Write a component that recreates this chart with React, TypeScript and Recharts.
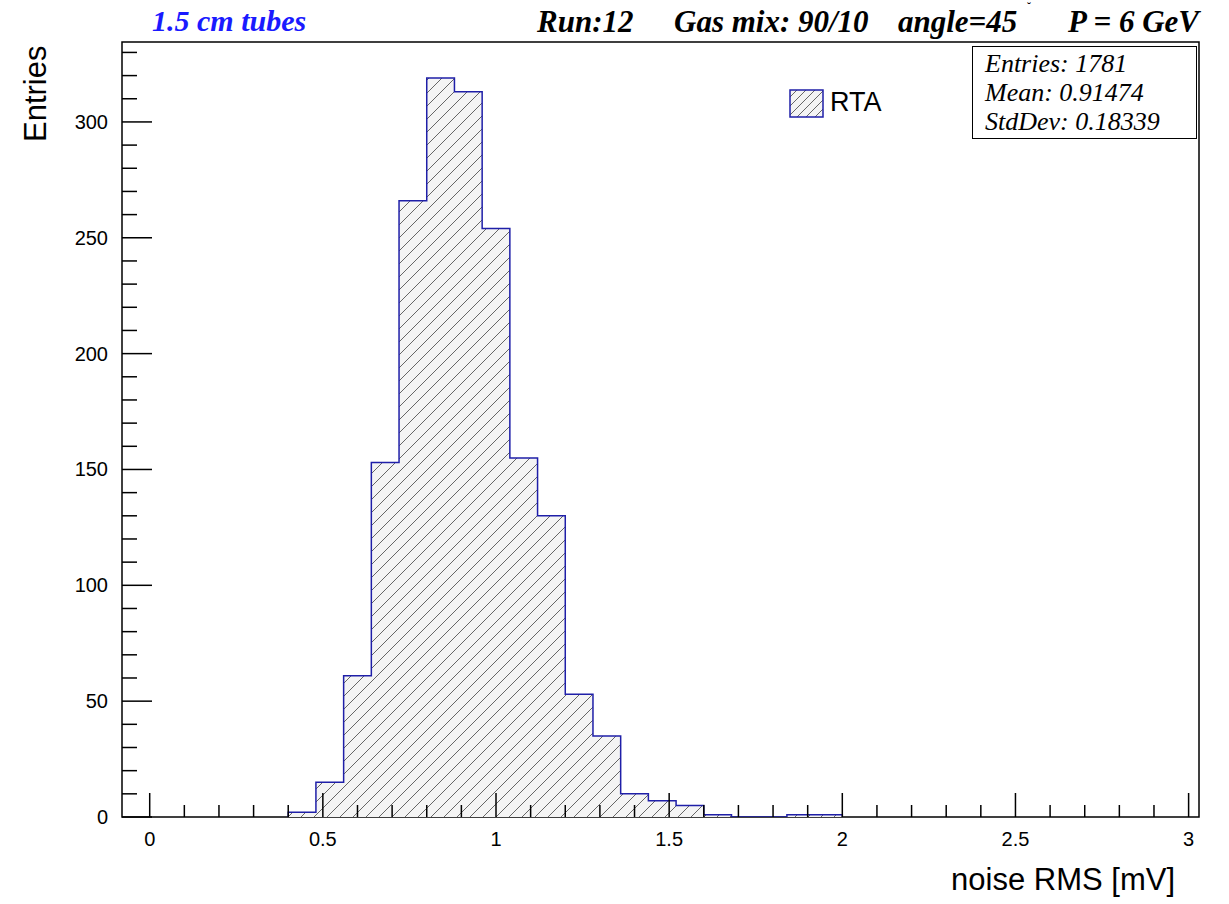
import React from "react";
import { ComposedChart, Area, XAxis, YAxis, Customized } from "recharts";

// bin left edges (width 0.08) and counts
const binEdges = [0.4, 0.48, 0.56, 0.64, 0.72, 0.8, 0.88, 0.96, 1.04, 1.12, 1.2, 1.28, 1.36, 1.44, 1.52, 1.6, 1.68, 1.76, 1.84, 1.92, 2.0];
const binCounts = [2, 15, 61, 153, 266, 319, 313, 254, 155, 130, 53, 35, 10, 7, 5, 1, 0, 0, 1, 1];

const xTicks = Array.from({ length: 31 }, (_, i) => +(i * 0.1).toFixed(1));
const yTicks = Array.from({ length: 34 }, (_, i) => i * 10);

const data = [
  { x: binEdges[0], y: 0 },
  ...binCounts.map((c, i) => ({ x: binEdges[i], y: c })),
  { x: binEdges[binEdges.length - 1], y: binCounts[binCounts.length - 1] },
  { x: binEdges[binEdges.length - 1], y: 0 },
];

const SANS = "'Liberation Sans', Arial, sans-serif";
const SERIF = "'Liberation Serif', 'Times New Roman', serif";
const BLUE = "#1f1fa8";

const XTick = (props: any) => {
  const { x, y, payload } = props;
  const v = payload.value;
  const major = Math.abs(v * 2 - Math.round(v * 2)) < 1e-6;
  return (
    <g>
      <line x1={x} x2={x} y1={y} y2={y - (major ? 24 : 12)} stroke="#000" strokeWidth={1.5} />
      {major && (
        <text x={x} y={y + 29} textAnchor="middle" fontSize={20} fontFamily={SANS} fill="#000">
          {v}
        </text>
      )}
    </g>
  );
};

const YTick = (props: any) => {
  const { x, y, payload } = props;
  const v = payload.value;
  const major = v % 50 === 0;
  return (
    <g>
      <line x1={x} x2={x + (major ? 30 : 15)} y1={y} y2={y} stroke="#000" strokeWidth={1.5} />
      {major && (
        <text x={x - 14} y={y + 7} textAnchor="end" fontSize={20} fontFamily={SANS} fill="#000">
          {v}
        </text>
      )}
    </g>
  );
};

const Frame = () => (
  <rect x={122} y={42} width={1077} height={775} fill="none" stroke="#000" strokeWidth={1.5} />
);

const titleStyle: React.CSSProperties = {
  position: "absolute",
  top: 4,
  fontFamily: SERIF,
  fontStyle: "italic",
  fontWeight: "bold",
  fontSize: 31,
  whiteSpace: "pre",
};

export default function App() {
  return (
    <div style={{ position: "absolute", left: 0, top: 0, width: 1229, height: 904, background: "#fff" }}>
      <ComposedChart width={1229} height={904} data={data} margin={{ top: 42, right: 30, bottom: 0, left: 0 }}>
        <defs>
          <pattern id="hatch" patternUnits="userSpaceOnUse" width={13} height={13}>
            <rect width={13} height={13} fill="#f4f4f4" />
            <path d="M-1,1 L1,-1 M0,13 L13,0 M12,14 L14,12" stroke="#666" strokeWidth={1} />
          </pattern>
        </defs>
        <XAxis
          type="number"
          dataKey="x"
          domain={[-0.08, 3.03]}
          ticks={xTicks}
          interval={0}
          tick={<XTick />}
          tickSize={0}
          tickMargin={0}
          axisLine={false}
          height={87}
          allowDataOverflow
        />
        <YAxis
          type="number"
          domain={[0, 334.5]}
          ticks={yTicks}
          interval={0}
          tick={<YTick />}
          tickSize={0}
          tickMargin={0}
          axisLine={false}
          width={122}
          allowDataOverflow
        />
        <Area
          type="stepAfter"
          dataKey="y"
          stroke={BLUE}
          strokeWidth={1.5}
          fill="url(#hatch)"
          fillOpacity={1}
          dot={false}
          activeDot={false}
          isAnimationActive={false}
        />
        <Customized component={Frame} />
      </ComposedChart>

      <div style={{ ...titleStyle, left: 152, color: "#1a1aff", fontSize: 30 }}>1.5 cm tubes</div>
      <div style={{ ...titleStyle, left: 537 }}>Run:12</div>
      <div style={{ ...titleStyle, left: 674 }}>Gas mix: 90/10</div>
      <div style={{ ...titleStyle, left: 898 }}>angle=45</div>
      <div style={{ position: "absolute", left: 1027, top: 1, fontFamily: SERIF, fontSize: 12, lineHeight: "12px" }}>˘</div>
      <div style={{ ...titleStyle, left: 1068 }}>P = 6 GeV</div>

      <div style={{ position: "absolute", left: 972, top: 46, width: 225, height: 93, border: "1.5px solid #000", background: "#fff", fontFamily: SERIF, fontStyle: "italic", fontSize: 26, lineHeight: "29px", paddingLeft: 12, paddingTop: 2, boxSizing: "border-box", whiteSpace: "pre" }}>
        <div>Entries: 1781</div>
        <div>Mean: 0.91474</div>
        <div>StdDev: 0.18339</div>
      </div>

      <svg style={{ position: "absolute", left: 789, top: 89 }} width={36} height={30}>
        <defs>
          <pattern id="hatch2" patternUnits="userSpaceOnUse" width={9} height={9}>
            <rect width={9} height={9} fill="#f4f4f4" />
            <path d="M-1,1 L1,-1 M0,9 L9,0 M8,10 L10,8" stroke="#666" strokeWidth={1} />
          </pattern>
        </defs>
        <rect x={1} y={1} width={33} height={27} fill="url(#hatch2)" stroke={BLUE} strokeWidth={1.5} />
      </svg>
      <div style={{ position: "absolute", left: 830, top: 87, fontFamily: SANS, fontSize: 27 }}>RTA</div>

      <div style={{ position: "absolute", left: 18, top: 142, transform: "rotate(-90deg)", transformOrigin: "left top", fontFamily: SANS, fontSize: 31 }}>
        Entries
      </div>
      <div style={{ position: "absolute", right: 54, top: 862, fontFamily: SANS, fontSize: 31 }}>noise RMS [mV]</div>
    </div>
  );
}
